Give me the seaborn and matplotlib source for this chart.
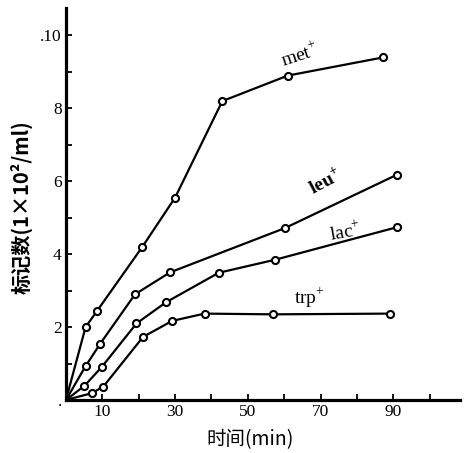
import numpy as np
import pandas as pd
import matplotlib
matplotlib.use("Agg")
import matplotlib.pyplot as plt
import seaborn as sns

# ---- data ----
met_x = [0, 5.4, 8.6, 21.0, 30.0, 43.0, 61.0, 87.3]
met_y = [0, 2.0, 2.45, 4.2, 5.55, 8.2, 8.9, 9.4]
leu_x = [0, 5.4, 9.4, 19.0, 28.6, 60.3, 91.0]
leu_y = [0, 0.93, 1.54, 2.9, 3.5, 4.72, 6.18]
lac_x = [0, 5.1, 9.8, 19.4, 27.5, 42.0, 57.6, 91.0]
lac_y = [0, 0.39, 0.9, 2.1, 2.68, 3.49, 3.85, 4.74]
trp_x = [0, 7.2, 10.3, 21.2, 29.2, 38.1, 56.9, 89.1]
trp_y = [0, 0.19, 0.37, 1.73, 2.17, 2.37, 2.35, 2.37]

series_names = ["met", "leu", "lac", "trp"]
x_ticks = [10, 20, 30, 40, 50, 60, 70, 80, 90, 100]
x_tick_labels = ["10", "", "30", "", "50", "", "70", "", "90", ""]
y_ticks = [0, 1, 2, 3, 4, 5, 6, 7, 8, 9, 10]
y_tick_labels = [".", "", "2", "", "4", "", "6", "", "8", "", ".10"]
x_label = "时间(min)"
y_label = "标记数(1×10²/ml)"

frames = []
for name, xs, ys in zip(series_names, [met_x, leu_x, lac_x, trp_x],
                        [met_y, leu_y, lac_y, trp_y]):
    frames.append(pd.DataFrame({"t": xs, "v": ys, "s": name}))
df = pd.concat(frames, ignore_index=True)

sns.set_style("ticks")
plt.rcParams["font.family"] = ["Liberation Serif", "DejaVu Serif"]
plt.rcParams["mathtext.fontset"] = "custom"
plt.rcParams["mathtext.rm"] = "Liberation Serif"
plt.rcParams["mathtext.bf"] = "Liberation Serif:bold"
for k in ["text.color", "axes.labelcolor", "xtick.color", "ytick.color",
          "axes.edgecolor"]:
    plt.rcParams[k] = "black"

fig = plt.figure(figsize=(4.71, 4.53), dpi=100)
ax = fig.add_axes([0.140, 0.117, 0.837, 0.865])

pal = {n: "black" for n in series_names}
sns.lineplot(data=df, x="t", y="v", hue="s", palette=pal, units="s",
             estimator=None, sort=False, linewidth=1.6, legend=False, ax=ax)
pts = df[df["t"] > 0]
sns.scatterplot(data=pts, x="t", y="v", color="white", edgecolor="black",
                linewidth=1.5, s=26, legend=False, ax=ax, zorder=5)

ax.set_xlim(0, 108.4)
ax.set_ylim(0, 10.75)
ax.set_xticks(x_ticks)
ax.set_xticklabels(x_tick_labels, fontsize=12.5)
ax.set_yticks(y_ticks)
ax.set_yticklabels(y_tick_labels, fontsize=12.5)
ax.tick_params(direction="in", length=4, width=1.3, pad=3, colors="black")
for sp in ["top", "right"]:
    ax.spines[sp].set_visible(False)
for sp in ["left", "bottom"]:
    ax.spines[sp].set_linewidth(2.3)
    ax.spines[sp].set_color("black")

ax.set_xlabel("")
ax.set_ylabel("")
fig.text(250 / 471, 1 - 440 / 453, x_label, ha="center", va="center",
         fontsize=14, color="black", family=["Noto Sans CJK SC", "DejaVu Sans"])
fig.text(22 / 471, 1 - 207 / 453, y_label, ha="center", va="center",
         rotation=90, fontsize=14.5, fontweight="bold", color="black",
         family=["Noto Sans CJK SC", "DejaVu Sans"])

lab_kw = dict(ha="center", va="center", fontsize=14, color="black")
ax.text(64.4, 9.45, "met$^{+}$", rotation=18, **lab_kw)
ax.text(71.3, 6.0, "leu$^{\\mathbf{+}}$", rotation=28, fontweight="bold", **lab_kw)
ax.text(76.8, 4.6, "lac$^{+}$", rotation=10, **lab_kw)
ax.text(66.9, 2.8, "trp$^{+}$", rotation=0, **lab_kw)

fig.savefig("out.png", dpi=100)
